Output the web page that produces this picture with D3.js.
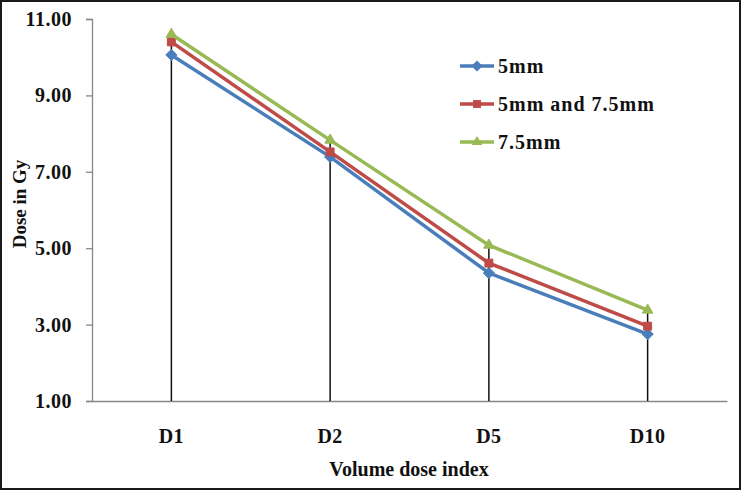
<!DOCTYPE html>
<html>
<head>
<meta charset="utf-8">
<script src="https://cdn.jsdelivr.net/npm/d3@7"></script>
<style>
  body { margin: 0; background: #fff; }
  text { font-family: 'Liberation Serif', 'Times New Roman', serif; font-weight: bold; fill: #111; }
</style>
</head>
<body>
<svg id="chart" width="741" height="490"></svg>
<script>
const categories = ['D1', 'D2', 'D5', 'D10'];
const seriesNames = ['5mm', '5mm and 7.5mm', '7.5mm'];
const values5 = [10.06, 7.39, 4.35, 2.75];
const values5and75 = [10.4, 7.52, 4.61, 2.96];
const values75 = [10.6, 7.83, 5.08, 3.38];
const yTicks = [1, 3, 5, 7, 9, 11];

const series = [
  { name: seriesNames[0], values: values5, color: '#4a7ebb', shape: d3.symbolDiamond2 },
  { name: seriesNames[1], values: values5and75, color: '#be4b48', shape: d3.symbolSquare2 },
  { name: seriesNames[2], values: values75, color: '#98b954', shape: d3.symbolTriangle2 },
];

const svg = d3.select('#chart');
const margin = { top: 19, right: 14, bottom: 89, left: 92 };
const width = 741 - margin.left - margin.right;
const height = 490 - margin.top - margin.bottom;

svg.append('rect')
  .attr('x', 1).attr('y', 1)
  .attr('width', 739).attr('height', 488)
  .attr('fill', '#fff')
  .attr('stroke', '#1a1a1a')
  .attr('stroke-width', 2);

const g = svg.append('g').attr('transform', `translate(${margin.left},${margin.top})`);

const x = d3.scaleBand().domain(categories).range([0, width]);
const y = d3.scaleLinear().domain([1, 11]).range([height, 0]);

// y axis
const yAxis = g.append('g')
  .call(d3.axisLeft(y).tickValues(yTicks).tickSize(6).tickFormat(d3.format('.2f')));
yAxis.select('.domain').attr('stroke', '#888').attr('stroke-width', 1.3);
yAxis.selectAll('line').attr('stroke', '#888').attr('stroke-width', 1.3);
yAxis.selectAll('text').attr('font-size', 20).attr('x', -20).attr('letter-spacing', 0.5);

// x axis
const xAxis = g.append('g')
  .attr('transform', `translate(0,${height})`)
  .call(d3.axisBottom(x).tickSize(0).tickSizeOuter(0));
xAxis.select('path').attr('stroke', '#888').attr('stroke-width', 1.3);
xAxis.selectAll('text').attr('font-size', 20).attr('dy', 0).attr('y', 42).attr('letter-spacing', 0.5);

// drop lines
const topVals = categories.map((c, i) => ({ c, v: d3.max(series, s => s.values[i]) }));
g.append('g')
  .selectAll('line')
  .data(topVals)
  .enter()
  .append('line')
  .attr('x1', d => x(d.c) + x.bandwidth() / 2)
  .attr('x2', d => x(d.c) + x.bandwidth() / 2)
  .attr('y1', d => y(d.v))
  .attr('y2', height)
  .attr('stroke', '#111')
  .attr('stroke-width', 1.5);

const line = d3.line()
  .x((d, i) => x(categories[i]) + x.bandwidth() / 2)
  .y(d => y(d));

series.forEach((s) => {
  g.append('path')
    .datum(s.values)
    .attr('fill', 'none')
    .attr('stroke', s.color)
    .attr('stroke-width', 3.5)
    .attr('d', line);
  g.append('g')
    .selectAll('path')
    .data(s.values)
    .enter()
    .append('path')
    .attr('transform', (d, i) => `translate(${x(categories[i]) + x.bandwidth() / 2},${y(d)})`)
    .attr('d', d3.symbol().type(s.shape).size(80))
    .attr('fill', s.color)
    .attr('stroke', s.color);
});

// legend
const legend = svg.append('g')
  .selectAll('g')
  .data(series)
  .enter()
  .append('g')
  .attr('transform', (d, i) => `translate(460,${66 + i * 38})`);

legend.append('line')
  .attr('x1', 0).attr('x2', 34)
  .attr('stroke', d => d.color)
  .attr('stroke-width', 3.5);

legend.append('path')
  .attr('transform', 'translate(17,0)')
  .attr('d', d => d3.symbol().type(d.shape).size(80)())
  .attr('fill', d => d.color);

legend.append('text')
  .attr('x', 38)
  .attr('dy', '0.33em')
  .attr('font-size', 20)
  .attr('letter-spacing', 1)
  .text(d => d.name);

// axis titles
svg.append('text')
  .attr('x', 409)
  .attr('y', 476)
  .attr('text-anchor', 'middle')
  .attr('font-size', 20)
  .text('Volume dose index');

svg.append('text')
  .attr('transform', 'translate(26,204) rotate(-90)')
  .attr('text-anchor', 'middle')
  .attr('font-size', 19)
  .text('Dose in Gy');
</script>
</body>
</html>
